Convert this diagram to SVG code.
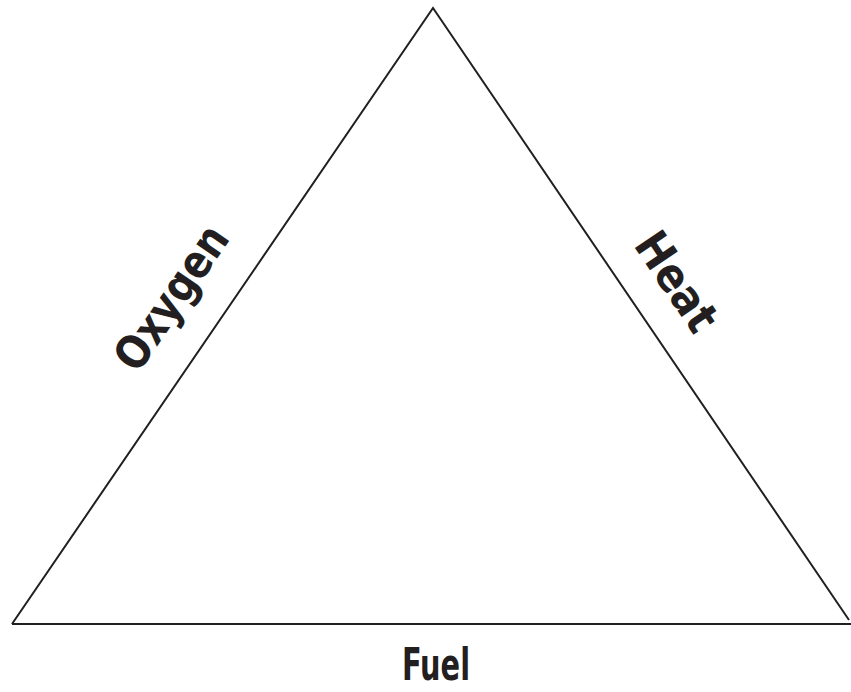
<svg xmlns="http://www.w3.org/2000/svg" width="851" height="692" viewBox="0 0 851 692">
<style>
.lbl{font-family:"DejaVu Sans Condensed","DejaVu Sans",sans-serif;font-weight:bold;fill:#231f20;text-anchor:middle}
.edge{fill:none;stroke:#231f20;stroke-width:2}
</style>
<rect width="851" height="692" fill="#ffffff"/>
<g id="connectors">
<path class="edge" d="M12,624 L433,8 L849,620"/>
<path class="edge" d="M12,624 L851,624"/>
</g>
<g id="oxygen"><text class="lbl" font-size="46" textLength="165" lengthAdjust="spacingAndGlyphs" transform="translate(172,298) rotate(-55.6)" y="15">Oxygen</text></g>
<g id="heat"><text class="lbl" font-size="46" textLength="110" lengthAdjust="spacingAndGlyphs" transform="translate(676,282) rotate(56)" y="15">Heat</text></g>
<g id="fuel"><text class="lbl" font-size="44" textLength="68" lengthAdjust="spacingAndGlyphs" x="436" y="680">Fuel</text></g>
</svg>
